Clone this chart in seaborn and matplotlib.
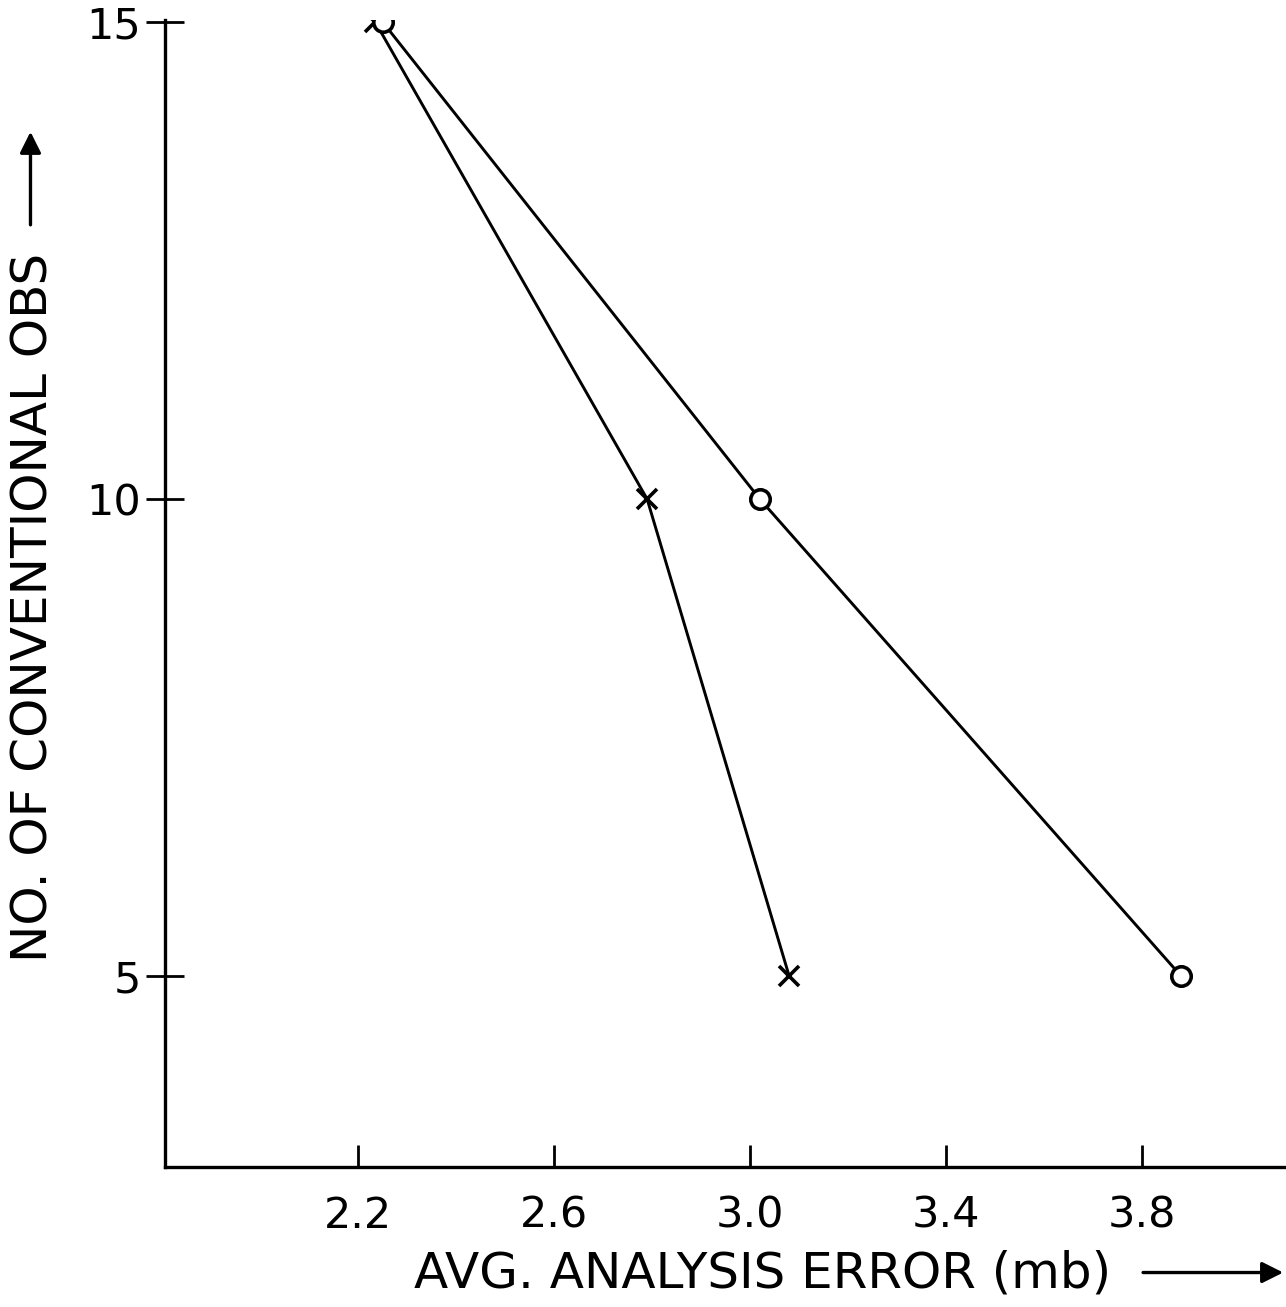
import numpy as np
import pandas as pd
import matplotlib
matplotlib.use("Agg")
import matplotlib.pyplot as plt
import seaborn as sns

# Valori
n_obs = [15, 10, 5]
err_circle = [2.25, 3.02, 3.88]
err_cross = [2.235, 2.79, 3.08]
x_ticks = [2.2, 2.6, 3.0, 3.4, 3.8]
y_ticks = [5, 10, 15]

df_circle = pd.DataFrame({"err": err_circle, "obs": n_obs})
df_cross = pd.DataFrame({"err": err_cross, "obs": n_obs})

sns.set_style("white")
plt.rcParams["font.family"] = ["DejaVu Sans"]
plt.rcParams["text.color"] = "black"
plt.rcParams["axes.labelcolor"] = "black"

fig = plt.figure(figsize=(12.86, 13.07), dpi=100)
ax = fig.add_axes([165 / 1286, 1 - 1167 / 1307, 1 - 165 / 1286, (1167 - 20) / 1307])

sns.lineplot(data=df_cross, x="err", y="obs", sort=False, ax=ax, color="black",
             linewidth=2.1, marker="x", markersize=15, markeredgewidth=2.6,
             markeredgecolor="black")
sns.lineplot(data=df_circle, x="err", y="obs", sort=False, ax=ax, color="black",
             linewidth=2.1, marker="o", markersize=14, markeredgewidth=2.6,
             markerfacecolor="white", markeredgecolor="black")

ax.set_xlim(1.806, 4.094)
ax.set_ylim(3.0, 15.02)
ax.set_xticks(x_ticks)
ax.set_xticklabels([f"{v:.1f}" for v in x_ticks])
ax.set_yticks(y_ticks)
ax.set_yticklabels([str(v) for v in y_ticks])

for side in ["top", "right"]:
    ax.spines[side].set_visible(False)
for side in ["left", "bottom"]:
    ax.spines[side].set_linewidth(2.4)
    ax.spines[side].set_color("black")

ax.tick_params(axis="y", direction="inout", length=27, width=2, pad=4,
               labelsize=31, colors="black", left=True)
ax.tick_params(axis="x", direction="in", length=16, width=2, pad=20,
               labelsize=31, colors="black", bottom=True)

ax.set_xlabel("AVG. ANALYSIS ERROR (mb)", fontsize=36)
ax.xaxis.set_label_coords(0.533, -0.072)
ax.set_ylabel("NO. OF CONVENTIONAL OBS", fontsize=36)
ax.yaxis.set_label_coords(-0.096, 0.488)

# frecce accanto alle etichette
ax.annotate("", xy=(1.0, -0.092), xytext=(0.87, -0.092), xycoords="axes fraction",
            annotation_clip=False,
            arrowprops=dict(arrowstyle="-|>", color="black", lw=2.4, mutation_scale=32))
ax.annotate("", xy=(-0.120, 0.905), xytext=(-0.120, 0.819), xycoords="axes fraction",
            annotation_clip=False,
            arrowprops=dict(arrowstyle="-|>", color="black", lw=2.4, mutation_scale=32))

fig.savefig("out.png", dpi=100)
